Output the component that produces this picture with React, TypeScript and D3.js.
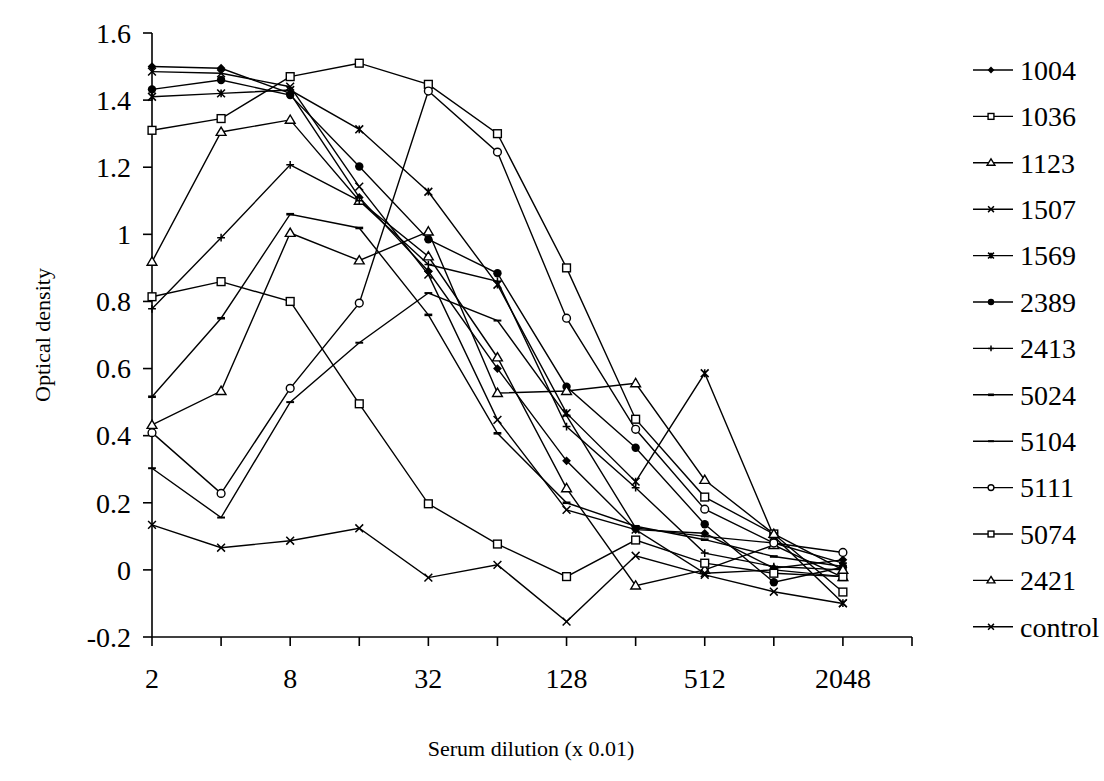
import React from 'react'
import * as d3 from 'd3'

const dilutions = ['2', '4', '8', '16', '32', '64', '128', '256', '512', '1024', '2048']
const tickLabels = ['2', '8', '32', '128', '512', '2048']
const yTicks = [-0.2, 0, 0.2, 0.4, 0.6, 0.8, 1, 1.2, 1.4, 1.6]

const s1004 = [1.5, 1.495, 1.42, 1.11, 0.89, 0.6, 0.325, 0.12, 0.109, 0.005, 0.03]
const s1036 = [1.31, 1.345, 1.47, 1.51, 1.447, 1.3, 0.9, 0.449, 0.217, 0.107, -0.066]
const s1123 = [0.918, 1.305, 1.341, 1.1, 0.934, 0.633, 0.243, -0.047, 0.0, 0.074, -0.022]
const s1507 = [1.485, 1.48, 1.44, 1.142, 0.88, 0.447, 0.179, 0.12, -0.01, 0.0, -0.02]
const s1569 = [1.41, 1.42, 1.43, 1.313, 1.127, 0.85, 0.467, 0.263, 0.586, 0.1, -0.099]
const s2389 = [1.432, 1.46, 1.415, 1.202, 0.985, 0.884, 0.546, 0.364, 0.136, -0.037, 0.008]
const s2413 = [0.778, 0.99, 1.207, 1.1, 0.91, 0.86, 0.427, 0.245, 0.05, 0.01, 0.0]
const s5024 = [0.516, 0.75, 1.06, 1.019, 0.76, 0.407, 0.2, 0.13, 0.09, 0.04, 0.01]
const s5104 = [0.303, 0.156, 0.5, 0.677, 0.825, 0.743, 0.46, 0.125, 0.1, 0.08, 0.02]
const s5111 = [0.409, 0.228, 0.541, 0.795, 1.427, 1.245, 0.75, 0.419, 0.181, 0.08, 0.052]
const s5074 = [0.814, 0.859, 0.8, 0.495, 0.197, 0.077, -0.02, 0.089, 0.02, -0.01, -0.02]
const s2421 = [0.432, 0.533, 1.004, 0.922, 1.008, 0.527, 0.533, 0.556, 0.268, 0.107, 0.0]
const sControl = [0.134, 0.066, 0.087, 0.124, -0.023, 0.015, -0.154, 0.042, -0.015, -0.065, -0.1]

const series = [
  { name: '1004', marker: 'diamond', values: s1004 },
  { name: '1036', marker: 'square', values: s1036 },
  { name: '1123', marker: 'triangle', values: s1123 },
  { name: '1507', marker: 'cross', values: s1507 },
  { name: '1569', marker: 'asterisk', values: s1569 },
  { name: '2389', marker: 'circle', values: s2389 },
  { name: '2413', marker: 'plus', values: s2413 },
  { name: '5024', marker: 'dash', values: s5024 },
  { name: '5104', marker: 'thindash', values: s5104 },
  { name: '5111', marker: 'ocircle', values: s5111 },
  { name: '5074', marker: 'square', values: s5074 },
  { name: '2421', marker: 'triangle', values: s2421 },
  { name: 'control', marker: 'cross', values: sControl },
]

const font = "'Liberation Serif', 'Times New Roman', serif"

// small marker glyphs, drawn like the old spreadsheet symbols
const Marker = ({ type, x, y, s = 1 }: { type: string; x: number; y: number; s?: number }) => {
  const k = 3.9 * s
  switch (type) {
    case 'diamond':
      return <path d={`M${x},${y - k - 0.5}L${x + k + 0.5},${y}L${x},${y + k + 0.5}L${x - k - 0.5},${y}Z`} fill="#000" />
    case 'square':
      return <rect x={x - k} y={y - k} width={2 * k} height={2 * k} fill="#fff" stroke="#000" strokeWidth={1.4} />
    case 'triangle':
      return <path d={`M${x},${y - k - 1}L${x + k + 1},${y + k - 0.5}L${x - k - 1},${y + k - 0.5}Z`} fill="#fff" stroke="#000" strokeWidth={1.4} />
    case 'cross':
      return <path d={`M${x - k},${y - k}L${x + k},${y + k}M${x - k},${y + k}L${x + k},${y - k}`} stroke="#000" strokeWidth={1.5} />
    case 'asterisk':
      return <path d={`M${x - k},${y - k}L${x + k},${y + k}M${x - k},${y + k}L${x + k},${y - k}M${x},${y - k}L${x},${y + k}`} stroke="#000" strokeWidth={1.6} />
    case 'circle':
      return <circle cx={x} cy={y} r={k + 0.3} fill="#000" />
    case 'plus':
      return <path d={`M${x - k},${y}L${x + k},${y}M${x},${y - k}L${x},${y + k}`} stroke="#000" strokeWidth={1.5} />
    case 'dash':
      return <path d={`M${x - k},${y}L${x + k},${y}`} stroke="#000" strokeWidth={2.6} />
    case 'thindash':
      return <path d={`M${x - k},${y}L${x + k},${y}`} stroke="#000" strokeWidth={2} />
    case 'ocircle':
      return <circle cx={x} cy={y} r={k} fill="#fff" stroke="#000" strokeWidth={1.4} />
    default:
      return null
  }
}

const App = () => {
  const width = 1104
  const height = 781
  const x = d3.scaleLinear().domain([0, 11]).range([152, 912])
  const y = d3.scaleLinear().domain([-0.2, 1.6]).range([637, 33])
  const line = d3.line<number>().x((d, i) => x(i)).y((d) => y(d))

  return (
    <svg width={width} height={height} style={{ position: 'absolute', left: 0, top: 0, background: '#fff' }}>
      <rect width={width} height={height} fill="#fff" />
      {/* axes */}
      <line x1={x(0)} x2={x(0)} y1={y(1.6)} y2={y(-0.2)} stroke="#000" strokeWidth={1.6} />
      <line x1={x(0)} x2={x(11)} y1={y(-0.2)} y2={y(-0.2)} stroke="#000" strokeWidth={1.6} />
      {yTicks.map((t) => (
        <g key={t}>
          <line x1={x(0) - 9} x2={x(0)} y1={y(t)} y2={y(t)} stroke="#000" strokeWidth={1.6} />
          <text x={131} y={y(t)} dy="0.35em" textAnchor="end" fontFamily={font} fontSize={28}>{String(t)}</text>
        </g>
      ))}
      {d3.range(12).map((i) => (
        <line key={i} x1={x(i)} x2={x(i)} y1={y(-0.2)} y2={y(-0.2) + 9} stroke="#000" strokeWidth={1.6} />
      ))}
      {tickLabels.map((t, j) => (
        <text key={t} x={x(j * 2)} y={688} textAnchor="middle" fontFamily={font} fontSize={28}>{t}</text>
      ))}
      <text transform={`translate(50,${y(0.7)}) rotate(-90)`} textAnchor="middle" fontFamily={font} fontSize={22}>Optical density</text>
      <text x={531} y={756} textAnchor="middle" fontFamily={font} fontSize={22}>Serum dilution (x 0.01)</text>

      {/* lines */}
      {series.map((s) => (
        <path key={s.name} d={line(s.values) || ''} fill="none" stroke="#000" strokeWidth={1.4} />
      ))}
      {series.map((s) => (
        <g key={s.name + 'm'}>
          {s.values.map((v, i) => (
            <Marker key={dilutions[i]} type={s.marker} x={x(i)} y={y(v)} />
          ))}
        </g>
      ))}

      {/* legend */}
      {series.map((s, i) => {
        const ly = 70 + i * 46.4
        return (
          <g key={s.name + 'l'}>
            <line x1={973} x2={1013} y1={ly} y2={ly} stroke="#000" strokeWidth={1.4} />
            <Marker type={s.marker} x={991} y={ly} s={0.75} />
            <text x={1020} y={ly} dy="0.35em" fontFamily={font} fontSize={28}>{s.name}</text>
          </g>
        )
      })}
    </svg>
  )
}

export default App
